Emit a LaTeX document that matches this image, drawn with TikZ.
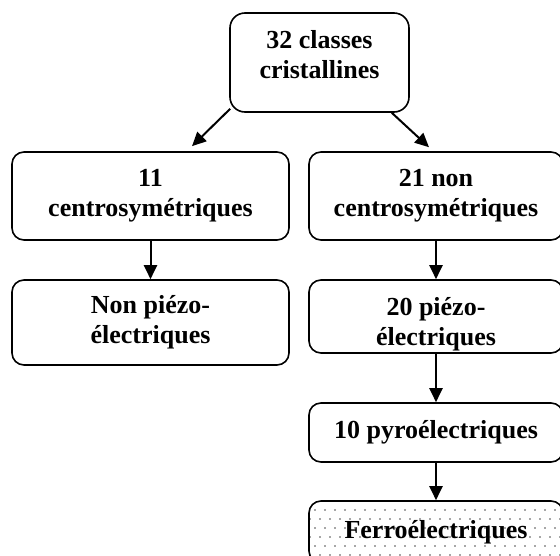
\documentclass[tikz,border=0pt]{standalone}
\usepackage{fontspec}
\setmainfont{Liberation Serif}
\usetikzlibrary{arrows.meta,patterns.meta}
\tikzdeclarepattern{name=ferrodots, type=uncolored, bottom left={(-1pt,-1pt)}, top right={(9pt,17pt)}, tile size={(10pt,18pt)}, code={\fill (0pt,0pt) circle (0.8pt); \fill (5pt,9pt) circle (0.8pt);}}
\newcommand{\lowtext}[2]{\raisebox{#1}[\height][\depth]{\begin{tabular}{@{}c@{}}#2\end{tabular}}}
\begin{document}
\begin{tikzpicture}[x=1pt, y=-1pt, line width=1.6pt, every node/.style={rectangle, draw, rounded corners=12pt, align=center, inner sep=0pt, font=\bfseries\fontsize{26}{30}\selectfont}, arr/.style={-{Triangle[length=14pt,width=13pt]}, line width=2pt}]
\clip (0,0) rectangle (560,555);
\node (classes) [minimum width=179pt, minimum height=99pt, rounded corners=15pt] at (319.5,62.5) {\lowtext{5pt}{32 classes\\cristallines}};
\node (c11) [minimum width=277pt, minimum height=88pt] at (150.5,196) {11\\centrosymétriques};
\node (c21) [minimum width=254pt, minimum height=88pt] at (436,196) {21 non\\centrosymétriques};
\node (np) [minimum width=277pt, minimum height=85pt] at (150.5,322.5) {Non piézo-\\électriques};
\node (p20) [minimum width=254pt, minimum height=73pt] at (436,316.5) {\lowtext{-8pt}{20 piézo-\\électriques}};
\node (pyro) [minimum width=254pt, minimum height=59pt] at (436,432.5) {10 pyroélectriques};
\node (ferro) [minimum width=254pt, minimum height=62pt, pattern=ferrodots, pattern color=black!70] at (436,532) {Ferroélectriques};

\draw[arr] ([shift={(1,-4)}]classes.south west) -- ([shift={(41.5,-5)}]c11.north);
\draw[arr] ([shift={(-18,0)}]classes.south east) -- ([shift={(-7,-4)}]c21.north);
\draw[arr] (c11) -- (np);
\draw[arr] (c21) -- (p20);
\draw[arr] (p20) -- (pyro);
\draw[arr] (pyro) -- (ferro);
\end{tikzpicture}
\end{document}
